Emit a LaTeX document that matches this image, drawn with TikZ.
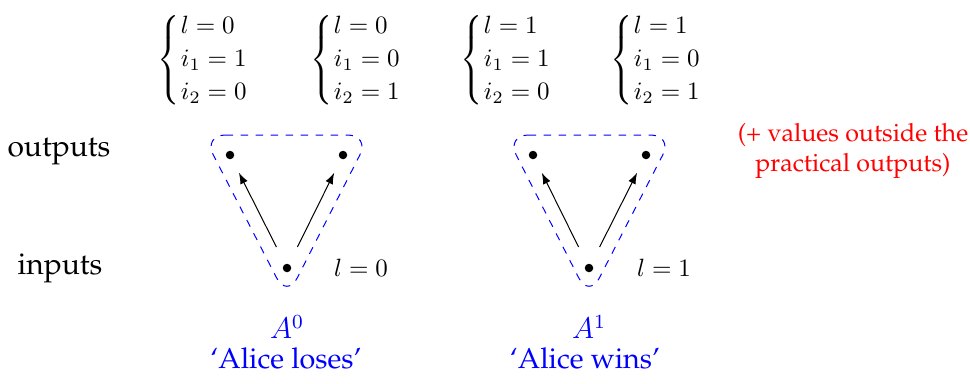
\documentclass[tikz,border=0pt]{standalone}
\usepackage[T1]{fontenc}
\usepackage{palatino}
\usepackage{amsmath}
\usetikzlibrary{arrows.meta}
\newcommand{\mycases}[3]{\fontsize{10.3}{13.2}\selectfont$\renewcommand{\arraystretch}{1}\left\{\begin{array}{@{\hskip0.5pt}l@{}}#1\\ #2\\ #3\end{array}\right.$}
\begin{document}
\begin{tikzpicture}[x=0.4pt,y=-0.4pt,
  dot/.style={circle,fill,inner sep=0pt,minimum size=3.4pt},
  lab/.style={font=\large},
  cs/.style={anchor=west,inner sep=0pt},
  grp/.style={draw=blue,dashed,rounded corners=9pt,thin},
  arr/.style={-{Latex[length=4.5pt,width=3.2pt]},thin,shorten <=7.5pt,shorten >=6pt},
  blu/.style={text=blue,font=\fontsize{11.5}{13}\selectfont}]
\useasboundingbox (0,0) rectangle (970,383);
% cases
\node[cs] (c1) at (157,60) {\mycases{l=0}{i_1=1}{i_2=0}};
\node[cs] (c2) at (310,60) {\mycases{l=0}{i_1=0}{i_2=1}};
\node[cs] (c3) at (460,60) {\mycases{l=1}{i_1=1}{i_2=0}};
\node[cs] (c4) at (610,60) {\mycases{l=1}{i_1=0}{i_2=1}};
% row labels
\node[lab] (out) at (59,152) {outputs};
\node[lab] (in) at (60,268) {inputs};
% left triangle
\node[dot] (a0l) at (230,155) {};
\node[dot] (a0r) at (343,155) {};
\node[dot] (a0b) at (287,268) {};
\draw[arr] (a0b) -- (a0l);
\draw[arr] (a0b) -- (a0r);
\draw[grp] (203,135) -- (370,135) -- (287,298) -- cycle;
\node (l0) at (361,268) {$l=0$};
\node[blu] (A0) at (287,327) {$A^0$};
\node[blu] (n0) at (286,358) {`Alice loses'};
% right triangle
\node[dot] (a1l) at (533,155) {};
\node[dot] (a1r) at (646,155) {};
\node[dot] (a1b) at (589,268) {};
\draw[arr] (a1b) -- (a1l);
\draw[arr] (a1b) -- (a1r);
\draw[grp] (506,135) -- (673,135) -- (589,298) -- cycle;
\node (l1) at (664,268) {$l=1$};
\node[blu] (A1) at (589,327) {$A^1$};
\node[blu] (n1) at (585,358) {`Alice wins'};
% note
\node[text=red,align=center] (note) at (853,151) {(+ values outside the\\practical outputs)};
\end{tikzpicture}
\end{document}
